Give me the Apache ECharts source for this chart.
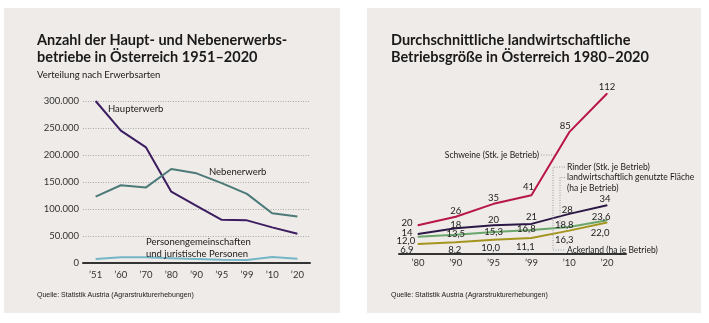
<!DOCTYPE html>
<html>
<head>
<meta charset="utf-8">
<script src="https://cdn.jsdelivr.net/npm/echarts@6/dist/echarts.min.js"></script>
<style>
  html, body { margin: 0; background: #fff; }
  #chart { width: 709px; height: 323px; }
</style>
</head>
<body>
<div id="chart"></div>
<script>
// Linkes Diagramm: Haupt- und Nebenerwerbsbetriebe
const jahreBetriebe = ['’51', '’60', '’70', '’80', '’90', '’95', '’99', '’10', '’20'];
const haupterwerb = [300000, 245000, 214000, 132000, 106000, 80000, 79000, 66000, 54000];
const nebenerwerb = [123000, 144000, 140000, 174000, 166000, 148000, 128000, 92000, 86000];
const personengem = [7500, 10500, 10500, 9000, 7500, 6000, 5500, 11000, 8000];

// Rechtes Diagramm: durchschnittliche Betriebsgröße
const jahreGroesse = ['’80', '’90', '’95', '’99', '’10', '’20'];
const schweine = [20, 26, 35, 41, 85, 112];
const rinder = [14, 18, 20, 21, 28, 34];
const flaeche = [12.0, 13.5, 15.3, 16.8, 18.8, 23.6];
const ackerland = [6.9, 8.2, 10.0, 11.1, 16.3, 22.0];

// Lage der Wertebeschriftungen (dx, dy relativ zum Punkt)
const offSchweine = [[-11, -2], [0, -6], [0, -6], [-3, -8], [-4, -6], [0, -7]];
const offRinder = [[-11, -1], [0, -3], [0, -5], [0, -7], [-2, -4], [-2, -6]];
const offFlaeche = [[-12, 4], [0, -1], [0, 0], [-5, -1], [-5, -2], [-6, -3]];
const offAcker = [[-11, 6], [-1, 8], [-3, 8], [-6, 9], [-5, 9], [-7, 10]];

const FONT = 'Lato, "Noto Sans", sans-serif';
const NARROW = '"Liberation Sans Narrow", "Liberation Sans", sans-serif';
const chart = echarts.init(document.getElementById('chart'));

function tausender(v) {
  return String(v).replace(/\B(?=(\d{3})+(?!\d))/g, '.');
}

function withLabels(values, offsets) {
  return values.map((v, i) => ({
    value: v,
    label: { offset: offsets[i] }
  }));
}

function lineSeries(name, data, color, xi, yi, extra) {
  return Object.assign({
    name: name,
    type: 'line',
    data: data,
    xAxisIndex: xi,
    yAxisIndex: yi,
    symbol: 'none',
    lineStyle: { color: color, width: 2 },
    itemStyle: { color: color },
    emphasis: { disabled: true },
    silent: true
  }, extra || {});
}

function labelled(name, values, offsets, color, komma) {
  return lineSeries(name, withLabels(values, offsets), color, 1, 1, {
    symbol: 'circle',
    symbolSize: 1,
    showSymbol: true,
    label: {
      show: true,
      position: 'inside',
      color: '#222',
      fontFamily: FONT,
      fontSize: 9.5,
      formatter: p => komma ? p.value.toFixed(1).replace('.', ',') : String(p.value)
    }
  });
}

const txt = (text, x, y, font, extra) => ({
  type: 'text', x: x, y: y, z: 10,
  style: Object.assign({
    text: text, fill: '#1a1a1a', font: font,
    textVerticalAlign: 'middle'
  }, extra || {})
});

const leader = (points) => ({
  type: 'polyline', z: 10,
  shape: { points: points },
  style: { stroke: '#9a9a9a', lineWidth: 1, lineDash: [1, 1.5], fill: null }
});

const titleFont = `bold 14.5px ${FONT}`;
const noteFont = `normal 8.5px ${FONT}`;
const serFont = `normal 9.5px ${FONT}`;
const srcFont = `normal 7px ${NARROW}`;

const option = {
  animation: false,
  graphic: [
    { type: 'rect', z: -1, shape: { x: 4, y: 8, width: 336, height: 305 }, style: { fill: '#efebe8' } },
    { type: 'rect', z: -1, shape: { x: 367, y: 8, width: 334, height: 305 }, style: { fill: '#efebe8' } },

    txt('Anzahl der Haupt- und Nebenerwerbs-', 37, 40, titleFont),
    txt('betriebe in Österreich 1951–2020', 37, 57, titleFont),
    txt('Verteilung nach Erwerbsarten', 37, 75, `normal 9.5px ${FONT}`),
    txt('Quelle: Statistik Austria (Agrarstrukturerhebungen)', 37, 295, srcFont),

    txt('Durchschnittliche landwirtschaftliche', 391, 40, titleFont),
    txt('Betriebsgröße in Österreich 1980–2020', 391, 57, titleFont),
    txt('Quelle: Statistik Austria (Agrarstrukturerhebungen)', 391, 295, srcFont),

    // Serienbeschriftungen links
    txt('Haupterwerb', 108, 109, serFont),
    txt('Nebenerwerb', 209, 172, serFont),
    txt('Personengemeinschaften', 146, 242, serFont),
    txt('und juristische Personen', 146, 254, serFont),

    // Serienbeschriftungen rechts
    txt('Schweine (Stk. je Betrieb)', 539, 155, noteFont, { textAlign: 'right' }),
    txt('Rinder (Stk. je Betrieb)', 567, 167, noteFont),
    txt('landwirtschaftlich genutzte Fläche', 567, 177.5, noteFont),
    txt('(ha je Betrieb)', 567, 188, noteFont),
    txt('Ackerland (ha je Betrieb)', 567, 250, noteFont),
    leader([[541, 155], [554, 155]]),
    leader([[565, 167], [553, 167], [553, 250], [565, 250]]),
    leader([[565, 177.5], [560, 177.5], [560, 226]])
  ],
  grid: [
    { left: 83, right: 399, top: 101, bottom: 60 },
    { left: 399, right: 83, top: 82, bottom: 69 }
  ],
  xAxis: [
    {
      type: 'category', gridIndex: 0, data: jahreBetriebe, boundaryGap: true,
      axisLine: { lineStyle: { color: '#333', width: 2 } },
      axisTick: { show: false },
      axisLabel: { color: '#333', fontFamily: FONT, fontSize: 9.5, margin: 7 }
    },
    {
      type: 'category', gridIndex: 1, data: jahreGroesse, boundaryGap: true,
      axisLine: { lineStyle: { color: '#333', width: 2 } },
      axisTick: { show: false },
      axisLabel: { color: '#333', fontFamily: FONT, fontSize: 9.5, margin: 4 }
    }
  ],
  yAxis: [
    {
      type: 'value', gridIndex: 0, min: 0, max: 300000, interval: 50000,
      axisLine: { show: false }, axisTick: { show: false },
      splitLine: { lineStyle: { color: '#a8a8a8', type: [1, 1.5], width: 1 } },
      axisLabel: { color: '#333', fontFamily: FONT, fontSize: 9.5, margin: 4, formatter: tausender }
    },
    {
      type: 'value', gridIndex: 1, min: 0, max: 120, show: false,
      splitLine: { show: false }
    }
  ],
  series: [
    lineSeries('Haupterwerb', haupterwerb, '#3b1d60', 0, 0),
    lineSeries('Nebenerwerb', nebenerwerb, '#4b7a78', 0, 0),
    lineSeries('Personengemeinschaften', personengem, '#74b6c8', 0, 0),

    labelled('Ackerland', ackerland, offAcker, '#a4951f', true),
    labelled('Fläche', flaeche, offFlaeche, '#6aa66a', true),
    labelled('Rinder', rinder, offRinder, '#2b1846', false),
    labelled('Schweine', schweine, offSchweine, '#b8164b', false)
  ]
};

chart.setOption(option);
</script>
</body>
</html>
